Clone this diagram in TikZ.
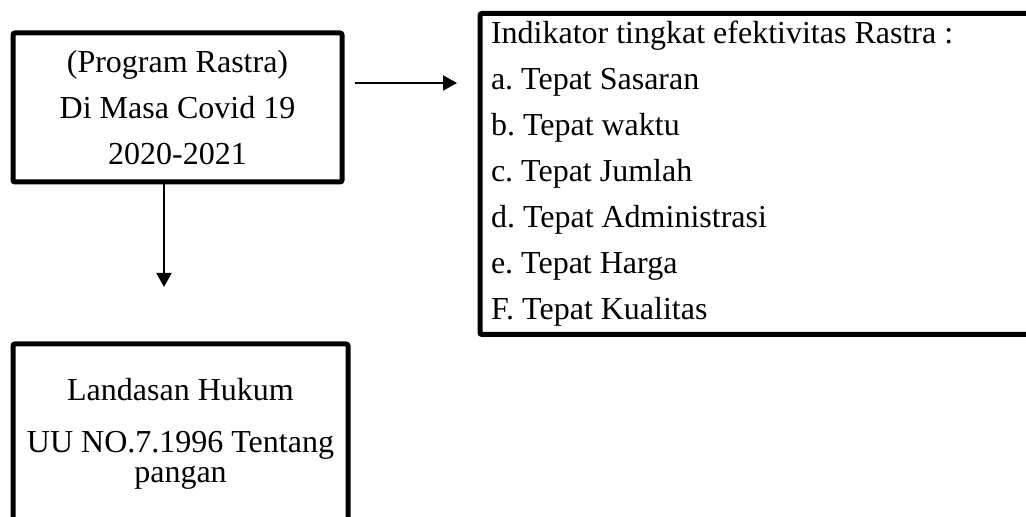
\documentclass[tikz,border=0pt]{standalone}
\usepackage{fontspec}
\setmainfont{Liberation Serif}
\usetikzlibrary{arrows.meta}

\begin{document}
\begin{tikzpicture}[x=1pt,y=1pt,
    box/.style={draw,line width=2.5pt,rounded corners=1pt,inner sep=0pt,
        font=\fontsize{16pt}{23pt}\selectfont\frenchspacing},
    arr/.style={line width=1pt,-{Triangle[length=7pt,width=7.5pt]}}]
            % Fix picture size
            \useasboundingbox (0,0) rectangle (513,258.5);
            \clip (0,0) rectangle (513,258.5);

            % Draw boxes
            \node[box,align=center,minimum width=164.5pt,minimum height=74.5pt] (prog) at (88.75,204.75)
                {(Program Rastra)\\Di Masa Covid 19\\2020-2021};
            \node[box,align=left,text width=265pt,inner xsep=5.5pt,minimum width=276pt,minimum height=160.5pt] (ind) at (378,171.5)
                {\spaceskip=0pt\xspaceskip=0pt Indikator tingkat efektivitas Rastra :\\a. Tepat Sasaran\\b. Tepat waktu\\c. Tepat Jumlah\\d. Tepat Administrasi\\e. Tepat Harga\\F. Tepat Kualitas};
            \node[box,align=center,minimum width=167.5pt,minimum height=90pt] (hukum) at (90.25,41.5)
                {Landasan Hukum\\[3pt]UU NO.7.1996 Tentang\\[-8pt]pangan};

            % Draw arrows
            \coordinate (arrY) at (0,217);
            \coordinate (dn) at (82,115);
            \draw[arr,shorten <=5.25pt,shorten >=10.25pt] (prog.east |- arrY) -- (ind.west |- arrY);
            \draw[arr] (prog.south -| dn) -- (dn);
        \end{tikzpicture}
\end{document}
